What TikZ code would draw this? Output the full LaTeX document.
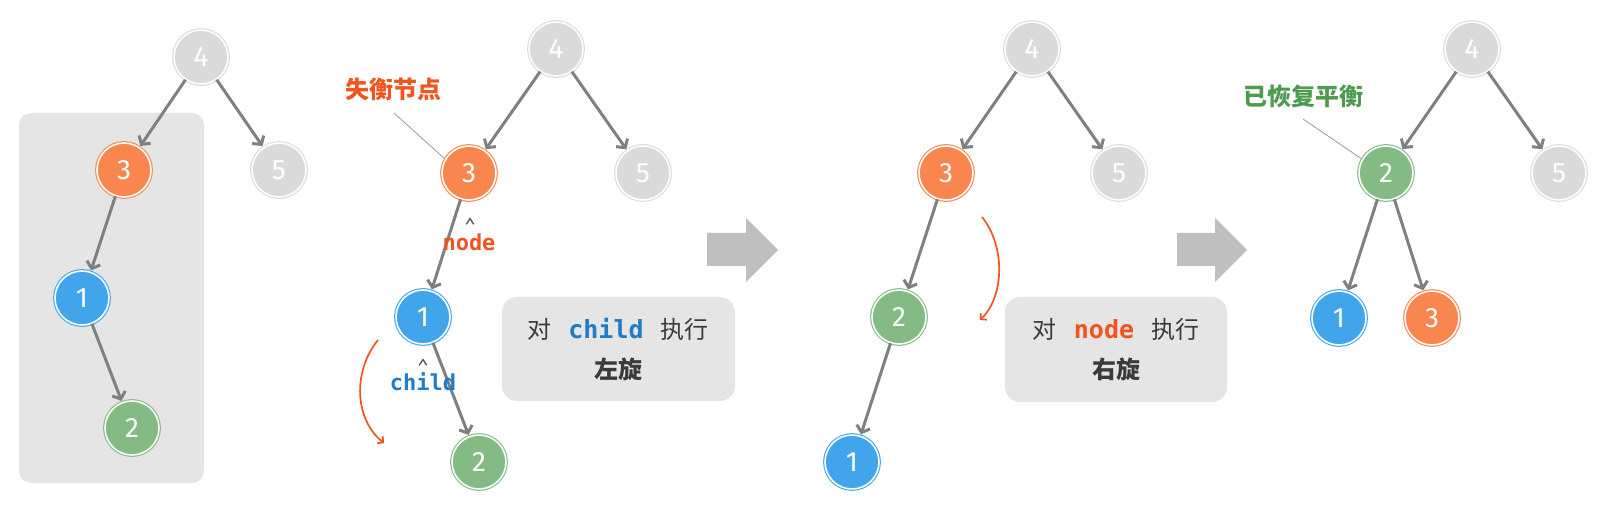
\documentclass[tikz,border=0pt]{standalone}
\usepackage{fontspec}
\setmainfont{Fira Sans}
\newfontfamily\cjk{Noto Sans CJK SC}
\newfontfamily\mono{DejaVu Sans Mono}
\usetikzlibrary{arrows.meta}
\definecolor{cOr}{HTML}{F9864F}
\definecolor{cBl}{HTML}{42A5EC}
\definecolor{cGr}{HTML}{84BA84}
\definecolor{cGy}{HTML}{DADADA}
\definecolor{cEdge}{HTML}{808080}
\definecolor{cRed}{HTML}{F0551E}
\definecolor{cBlT}{HTML}{1F7CC6}
\definecolor{cGrT}{HTML}{4E9A4E}
\definecolor{cBox}{HTML}{E5E5E5}
\definecolor{cBig}{HTML}{BFBFBF}
\definecolor{cTxt}{HTML}{3A3A3A}
\tikzset{
  tn/.style={circle, minimum size=54pt, inner sep=0pt, fill=#1, draw=#1,
    line width=1.1pt, double=white, double distance=1.6pt,
    text=white, font=\fontsize{28}{28}\selectfont},
  edge/.style={draw=cEdge, line width=3pt, shorten >=1.5pt,
    -{Straight Barb[length=6pt,width=14pt]}},
  rot/.style={draw=cRed, line width=1.7pt, -{Straight Barb[length=4pt,width=9pt]}},
  callout/.style={draw=cEdge!80, line width=0.8pt},
  chev/.style={draw=cEdge!70!black, line width=1.4pt, line join=round, line cap=round},
  lbl/.style={font=\cjk\bfseries\fontsize{24}{24}\selectfont},
  ptr/.style={font=\mono\bfseries\fontsize{22}{22}\selectfont},
  infobox/.style={fill=cBox, rounded corners=15pt},
  bigarrow/.style={fill=cBig},
  boxtxt/.style={font=\cjk\fontsize{24}{24}\selectfont, text=cTxt}
}
\begin{document}
\begin{tikzpicture}[x=1pt,y=-1pt]
\useasboundingbox (0,0) rectangle (1603,510);
% panel 1 background
\fill[cBox, rounded corners=12pt] (19,113) rectangle (204,483);
% ---------- panel 1
\node[tn=cGy] (a4) at (201,57) {4};
\node[tn=cOr] (a3) at (124,170) {3};
\node[tn=cGy] (a5) at (279,170) {5};
\node[tn=cBl] (a1) at (82,298) {1};
\node[tn=cGr] (a2) at (132,428) {2};
\draw[edge] (a4) -- (a3);
\draw[edge] (a4) -- (a5);
\draw[edge] (a3) -- (a1);
\draw[edge] (a1) -- (a2);
% ---------- panel 2
\node[tn=cGy] (b4) at (556,49) {4};
\node[tn=cOr] (b3) at (469,173) {3};
\node[tn=cGy] (b5) at (643,173) {5};
\node[tn=cBl] (b1) at (423,317) {1};
\node[tn=cGr] (b2) at (479,462) {2};
\draw[edge] (b4) -- (b3);
\draw[edge] (b4) -- (b5);
\draw[edge] (b3) -- (b1);
\draw[edge] (b1) -- (b2);
\node[lbl, text=cRed] (lb) at (393,89) {失衡节点};
\coordinate (lbA) at (394,113);
\draw[callout] (lbA) -- (b3.150);
\draw[chev] (466.5,224) -- (470,218.5) -- (473.5,224);
\node[ptr, text=cRed] (pnode) at (469,242) {node};
\draw[chev] (419.5,365) -- (423,359.5) -- (426.5,365);
\node[ptr, text=cBlT] (pchild) at (423,382) {child};
\coordinate (r1s) at (378,340);
\coordinate (r1e) at (384,443);
\draw[rot] (r1s) .. controls (352,372) and (355,420) .. (r1e);
\fill[infobox] (502,297) rectangle (735,401);
\node[boxtxt] (t1) at (618,329) {对\hspace{17pt}{\mono\bfseries\fontsize{25}{25}\selectfont\textcolor{cBlT}{child}}\hspace{17pt}执行};
\node[boxtxt, font=\cjk\bfseries\fontsize{24}{24}\selectfont] (t2) at (618,369) {左旋};
% big arrow 1
\fill[bigarrow] (707,233) -- (746,233) -- (746,218) -- (778,250) -- (746,282) -- (746,266) -- (707,266) -- cycle;
% ---------- panel 3
\node[tn=cGy] (c4) at (1032,49) {4};
\node[tn=cOr] (c3) at (946,173) {3};
\node[tn=cGy] (c5) at (1119,173) {5};
\node[tn=cGr] (c2) at (899,317) {2};
\node[tn=cBl] (c1) at (852,462) {1};
\draw[edge] (c4) -- (c3);
\draw[edge] (c4) -- (c5);
\draw[edge] (c3) -- (c2);
\draw[edge] (c2) -- (c1);
\coordinate (r2s) at (982,217);
\coordinate (r2e) at (980,320);
\draw[rot] (r2s) .. controls (1006,247) and (1004,297) .. (r2e);
\fill[infobox] (1005,297) rectangle (1227,402);
\node[boxtxt] (t3) at (1116,329) {对\hspace{17pt}{\mono\bfseries\fontsize{25}{25}\selectfont\textcolor{cRed}{node}}\hspace{17pt}执行};
\node[boxtxt, font=\cjk\bfseries\fontsize{24}{24}\selectfont] (t4) at (1116,369) {右旋};
% big arrow 2
\fill[bigarrow] (1177,233) -- (1215,233) -- (1215,218) -- (1247,250) -- (1215,282) -- (1215,266) -- (1177,266) -- cycle;
% ---------- panel 4
\node[tn=cGy] (d4) at (1472,49) {4};
\node[tn=cGr] (d2) at (1386,173) {2};
\node[tn=cGy] (d5) at (1559,173) {5};
\node[tn=cBl] (d1) at (1339,318) {1};
\node[tn=cOr] (d3) at (1432,318) {3};
\draw[edge] (d4) -- (d2);
\draw[edge] (d4) -- (d5);
\draw[edge] (d2) -- (d1);
\draw[edge] (d2) -- (d3);
\node[lbl, text=cGrT] (ld) at (1303,96) {已恢复平衡};
\coordinate (ldA) at (1303,119);
\draw[callout] (ldA) -- (d2.150);
\end{tikzpicture}
\end{document}
